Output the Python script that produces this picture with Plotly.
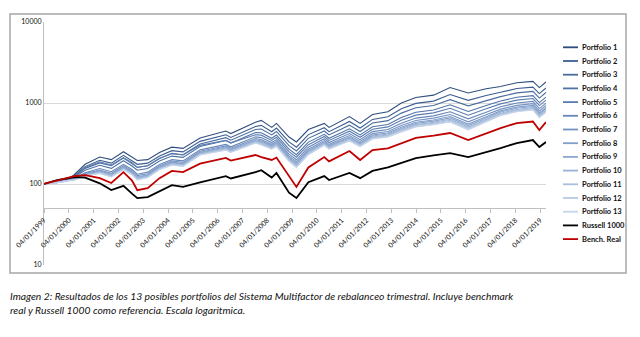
import plotly.graph_objects as go
import math

dates = ["1999-01-04", "1999-07-16", "1999-12-31", "2000-03-24", "2000-09-01", "2001-04-04",
         "2001-09-21", "2002-03-19", "2002-07-23", "2002-10-09", "2003-03-11", "2003-09-01",
         "2004-03-01", "2004-08-12", "2005-04-20", "2006-05-05", "2006-07-17", "2007-07-15",
         "2007-10-09", "2008-03-10", "2008-05-19", "2008-11-20", "2009-03-09", "2009-09-01",
         "2010-04-23", "2010-07-02", "2011-04-29", "2011-10-03", "2012-04-02", "2012-11-15",
         "2013-06-01", "2014-01-01", "2014-09-18", "2015-05-20", "2016-02-11", "2016-11-01",
         "2017-06-01", "2018-01-26", "2018-09-20", "2018-12-24", "2019-04-01"]

portfolio_1 = [100, 108, 115, 130, 175, 215, 200, 250, 215, 195, 200, 245, 285, 275, 370, 450, 420, 580, 610, 500,
               560, 380, 330, 470, 560, 500, 680, 560, 720, 780, 1000, 1170, 1250, 1550, 1330, 1500, 1600, 1780,
               1850, 1550, 1820]
portfolio_2 = [100, 107, 114, 126, 164, 196, 181, 226, 194, 175, 181, 222, 258, 249, 336, 405, 376, 514, 529, 442,
               491, 331, 285, 407, 495, 442, 592, 491, 627, 676, 848, 989, 1055, 1273, 1078, 1240, 1356, 1507,
               1571, 1308, 1533]
portfolio_3 = [100, 107, 113, 123, 156, 182, 168, 209, 180, 161, 168, 206, 239, 230, 312, 373, 347, 471, 477, 403,
               445, 298, 256, 366, 451, 403, 533, 445, 565, 606, 750, 872, 931, 1099, 921, 1076, 1198, 1333,
               1391, 1150, 1348]
portfolio_4 = [100, 106, 112, 121, 148, 170, 156, 194, 167, 148, 155, 192, 221, 213, 290, 344, 320, 431, 429, 367,
               403, 269, 230, 329, 410, 367, 481, 403, 509, 544, 663, 770, 821, 949, 786, 933, 1058, 1178,
               1232, 1012, 1184]
portfolio_5 = [100, 106, 112, 119, 160, 188, 172, 212, 183, 160, 168, 208, 236, 228, 300, 345, 322, 406, 401, 345,
               377, 251, 214, 306, 386, 345, 449, 377, 475, 507, 611, 708, 755, 861, 708, 849, 975, 1085,
               1136, 929, 1086]
portfolio_6 = [100, 105, 111, 117, 138, 155, 142, 175, 151, 132, 140, 174, 200, 193, 264, 308, 288, 382, 374, 325,
               353, 234, 199, 285, 362, 325, 419, 353, 443, 471, 563, 651, 694, 780, 637, 771, 897, 999,
               1046, 853, 997]
portfolio_7 = [100, 105, 111, 116, 135, 149, 136, 168, 145, 127, 134, 167, 192, 185, 254, 295, 276, 365, 353, 309,
               335, 221, 188, 269, 344, 309, 396, 335, 419, 445, 527, 609, 650, 722, 586, 715, 840, 935,
               981, 797, 931]
portfolio_8 = [100, 105, 111, 115, 132, 145, 132, 163, 141, 122, 130, 162, 186, 179, 246, 286, 267, 352, 339, 298,
               322, 212, 180, 258, 332, 298, 380, 322, 402, 426, 502, 579, 618, 681, 549, 676, 799, 890,
               934, 756, 884]
portfolio_9 = [100, 105, 111, 114, 130, 143, 129, 160, 138, 120, 128, 159, 182, 176, 242, 280, 261, 344, 329, 291,
               314, 207, 175, 251, 323, 291, 370, 314, 391, 414, 485, 560, 597, 655, 527, 650, 773, 861,
               904, 731, 854]
portfolio_10 = [100, 104, 110, 113, 128, 140, 127, 156, 135, 117, 125, 156, 178, 172, 237, 274, 256, 336, 320, 284,
                306, 201, 169, 244, 315, 284, 359, 306, 381, 402, 470, 541, 577, 629, 505, 626, 748, 833,
                875, 707, 825]
portfolio_11 = [100, 104, 110, 113, 127, 138, 125, 154, 133, 115, 123, 154, 175, 169, 233, 269, 252, 330, 313, 278,
                300, 197, 166, 239, 310, 279, 352, 300, 373, 394, 458, 528, 563, 611, 489, 608, 729, 812,
                853, 688, 803]
portfolio_12 = [100, 104, 110, 112, 126, 136, 123, 152, 131, 113, 121, 152, 173, 167, 230, 265, 248, 324, 307, 273,
                294, 193, 162, 233, 304, 273, 345, 294, 365, 385, 447, 514, 549, 593, 475, 591, 712, 793,
                833, 672, 783]
portfolio_13 = [100, 104, 110, 112, 125, 135, 122, 150, 130, 112, 120, 150, 171, 165, 228, 262, 245, 320, 303, 270,
                290, 190, 160, 230, 300, 270, 340, 290, 360, 380, 440, 506, 540, 582, 464, 580, 700, 780,
                820, 660, 770]
russell_1000 = [100, 112, 118, 122, 120, 102, 84, 95, 76, 67, 69, 82, 97, 92, 105, 125, 117, 140, 148, 120,
                137, 78, 67, 105, 125, 112, 137, 118, 145, 160, 180, 209, 225, 241, 215, 245, 278, 320,
                349, 286, 330]
bench_real = [100, 110, 118, 125, 129, 118, 103, 140, 110, 84, 89, 118, 145, 140, 178, 210, 195, 228, 215, 198,
              212, 125, 92, 160, 215, 190, 255, 198, 262, 275, 320, 370, 395, 426, 349, 420, 490, 566,
              590, 464, 580]

series_names = ["Portfolio 1", "Portfolio 2", "Portfolio 3", "Portfolio 4", "Portfolio 5", "Portfolio 6",
                "Portfolio 7", "Portfolio 8", "Portfolio 9", "Portfolio 10", "Portfolio 11", "Portfolio 12",
                "Portfolio 13", "Russell 1000", "Bench. Real"]
series_values = [portfolio_1, portfolio_2, portfolio_3, portfolio_4, portfolio_5, portfolio_6, portfolio_7,
                 portfolio_8, portfolio_9, portfolio_10, portfolio_11, portfolio_12, portfolio_13,
                 russell_1000, bench_real]
series_colors = ["#2F4E7E", "#3D5E91", "#4A6D9E", "#4F73A8", "#5A7DB0", "#6787BA", "#7593C2", "#819DC9",
                 "#8DA8CF", "#9BB3D6", "#A8BEDD", "#B6C9E3", "#C5D4EA", "#000000", "#C00000"]
series_widths = [1.1] * 13 + [1.8, 1.8]

x_tick_vals = ["%d-01-04" % y for y in range(1999, 2020)]
x_tick_text = ["04/01/%d" % y for y in range(1999, 2020)]
y_tick_vals = [10, 100, 1000, 10000]
y_tick_text = ["10", "100", "1000", "10000"]

caption_1 = "Imagen 2: Resultados de los 13 posibles portfolios del Sistema Multifactor de rebalanceo trimestral. Incluye benchmark"
caption_2 = "real y Russell 1000 como referencia. Escala logaritmica."

W, H = 640, 337
ML, MR, MT, MB = 44, 94, 22, 72
PW, PH = W - ML - MR, H - MT - MB


def px_x(px):
    return (px - ML) / PW


def px_y(py):
    return (H - MB - py) / PH


fig = go.Figure()
for name, vals, col, w in zip(series_names, series_values, series_colors, series_widths):
    fig.add_trace(go.Scatter(x=dates, y=vals, mode="lines", name=name,
                             line=dict(color=col, width=w), showlegend=False))

shapes = [dict(type="rect", xref="paper", yref="paper", x0=px_x(10), x1=px_x(626), y0=px_y(273), y1=px_y(14),
               line=dict(color="#A6A6A6", width=1.5), fillcolor="rgba(0,0,0,0)", layer="below")]
annotations = []
for i, (name, col) in enumerate(zip(series_names, series_colors)):
    py = 47.3 + 13.7 * i
    shapes.append(dict(type="line", xref="paper", yref="paper", x0=px_x(563), x1=px_x(578),
                       y0=px_y(py), y1=px_y(py), line=dict(color=col, width=1.8)))
    annotations.append(dict(xref="paper", yref="paper", x=px_x(580), y=px_y(py), text=name,
                            showarrow=False, xanchor="left", yanchor="middle",
                            font=dict(family="Lato", size=7.5, color="#111111", weight="bold")))

annotations.append(dict(xref="paper", yref="paper", x=px_x(8), y=px_y(296), text="<i>" + caption_1 + "</i>",
                        showarrow=False, xanchor="left", yanchor="middle",
                        font=dict(family="Lato", size=10.3, color="#111111")))
annotations.append(dict(xref="paper", yref="paper", x=px_x(8), y=px_y(310), text="<i>" + caption_2 + "</i>",
                        showarrow=False, xanchor="left", yanchor="middle",
                        font=dict(family="Lato", size=10.3, color="#111111")))

fig.update_layout(
    width=W, height=H,
    margin=dict(l=ML, r=MR, t=MT, b=MB, pad=0),
    paper_bgcolor="white", plot_bgcolor="white",
    shapes=shapes, annotations=annotations,
    xaxis=dict(type="date", range=["1999-01-04", "2019-04-01"], anchor="free",
               position=(math.log10(50) - 1) / 3, showline=True, linecolor="#BFBFBF", linewidth=1,
               showgrid=False, zeroline=False, tickmode="array", tickvals=x_tick_vals, ticktext=x_tick_text,
               tickangle=-45, ticks="outside", ticklen=4, tickcolor="#BFBFBF",
               tickfont=dict(family="Lato", size=7, color="#111111")),
    yaxis=dict(type="log", range=[1, 4], showline=True, linecolor="#BFBFBF", linewidth=1,
               showgrid=True, gridcolor="#D9D9D9", gridwidth=1, zeroline=False,
               tickmode="array", tickvals=y_tick_vals, ticktext=y_tick_text, ticks="",
               tickfont=dict(family="Lato", size=7, color="#111111")),
)

fig.write_html("out.html")
